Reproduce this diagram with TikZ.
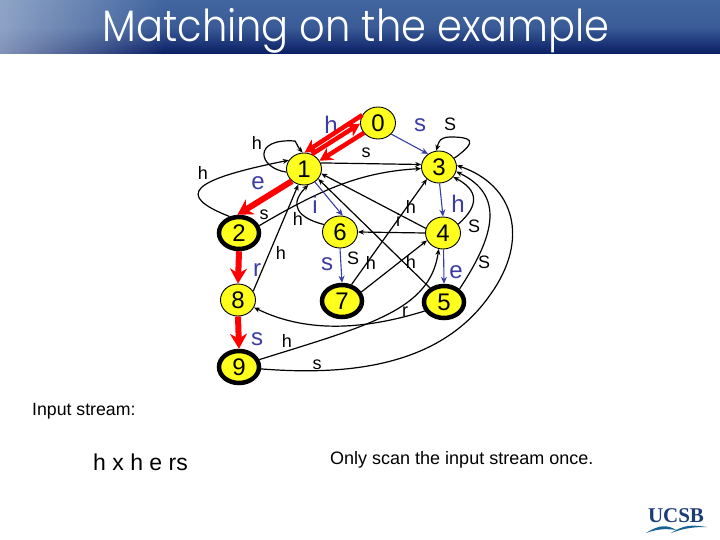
\documentclass[tikz,border=0pt]{standalone}
\usepackage{fontspec}
\setmainfont{Liberation Sans}
\newfontfamily\titlefont{Poppins Light}
\newfontfamily\logofont{Liberation Serif}
\usetikzlibrary{fadings,arrows.meta,shapes.geometric}
\definecolor{stateyellow}{RGB}{255,255,30}
\definecolor{gotoblue}{RGB}{60,60,165}
\definecolor{barlight}{RGB}{66,102,160}
\definecolor{bardark}{RGB}{10,30,100}
\definecolor{logoblue}{RGB}{28,60,120}
\tikzset{
  statenode/.style={ellipse, draw, fill=stateyellow, line width=0.9pt, minimum width=35pt, minimum height=32pt, inner sep=0pt, font=\fontsize{24}{24}\selectfont},
  finalnode/.style={statenode, line width=4.5pt, minimum width=40pt, minimum height=32pt},
  fail/.style={-{Stealth[length=6pt,width=5pt]}, line width=1.2pt},
  goto/.style={-{Stealth[length=7pt,width=6pt]}, gotoblue, line width=1.1pt},
  hit/.style={-{Stealth[length=15pt,width=17pt]}, red, line width=6pt},
  hitthin/.style={-{Stealth[length=13pt,width=14pt]}, red, line width=4.5pt},
  faillabel/.style={inner sep=0pt, font=\fontsize{18}{18}\selectfont},
  gotolabel/.style={inner sep=0pt, text=gotoblue, font=\fontsize{24}{24}\selectfont},
}
\begin{document}
\begin{tikzpicture}[x=1pt,y=-1pt]
\useasboundingbox (0,0) rectangle (720,540);
\shade[top color=barlight, bottom color=bardark, middle color=barlight!85!bardark] (0,0) rectangle (720,54);
\fill[white!55!barlight, opacity=0.75, path fading=east] (0,0) rectangle (165,54);
\node[inner sep=0pt, text=white, yscale=1.1, transform shape, font=\titlefont\fontsize{40}{40}\selectfont] (title) at (356,31) {Matching on the example};

% states
\node[statenode] (n0) at (378,123) {0};
\node[statenode] (n1) at (304,169) {1};
\node[finalnode] (n2) at (239,233) {2};
\node[statenode] (n3) at (439,167) {3};
\node[statenode] (n4) at (443,233) {4};
\node[finalnode] (n5) at (444,302) {5};
\node[statenode] (n6) at (340,232) {6};
\node[finalnode] (n7) at (342,301) {7};
\node[statenode] (n8) at (238,300) {8};
\node[finalnode] (n9) at (239,367) {9};

% failure links
\draw[fail] (n1.190) .. controls (258,168) and (252,138) .. (295,141) .. controls (297,143) and (297,146) .. (n1.95);
\draw[fail] (n2.120) .. controls (175,195) and (190,180) .. (n1.150);
\draw[fail] (n1.20) -- (n3.172);
\draw[fail] (n2.20) .. controls (320,190) and (360,172) .. (n3.185);
\draw[fail] (n3.30) .. controls (480,140) and (470,137) .. (450,137) .. controls (438,137) and (438,145) .. (n3.100);
\draw[fail] (n8.30) -- (n1.250);
\draw[fail] (n6.155) .. controls (298,218) and (288,205) .. (n1.285);
\draw[fail] (n4.165) -- (n1.-15);
\draw[fail] (n5.135) -- (n1.-35);
\draw[fail] (n4.west) -- (n6.east);
\draw[fail] (n7.60) -- (n3.225);
\draw[fail] (n7.25) -- (n4.205);
\draw[fail] (n4.30) .. controls (480,205) and (478,190) .. (n3.-35);
\draw[fail] (n5.40) .. controls (495,235) and (505,195) .. (n3.-15);
\draw[fail] (n9.-5) .. controls (340,375) and (438,370) .. (490,295) .. controls (530,240) and (515,185) .. (n3.5);
\draw[fail] (n9.20) .. controls (370,325) and (430,310) .. (n4.255);
\draw[fail] (n5.205) .. controls (370,328) and (310,335) .. (n8.-25);

% goto links
\draw[goto] (n0.-40) -- (n3.130);
\draw[goto] (n3.-88) -- (n4.90);
\draw[goto] (n4.-88) -- (n5.90);
\draw[goto] (n1.-50) -- (n6.80);
\draw[goto] (n6.-90) -- (n7.90);

% labels on goto links
\node[gotolabel] (lh0) at (331,125) {h};
\node[gotolabel] (le1) at (258,183) {e};
\node[gotolabel] (li1) at (315,205) {i};
\node[gotolabel] (ls0) at (420,125) {s};
\node[gotolabel] (lh3) at (458,204) {h};
\node[gotolabel] (le4) at (456,272) {e};
\node[gotolabel] (ls6) at (327,264) {s};
\node[gotolabel] (lr2) at (257,270) {r};
\node[gotolabel] (ls8) at (257,339) {s};

% matched path
\draw[hitthin] (n0.153) -- (n1.88);
\draw[hitthin] (n1.62) -- (n0.182);
\draw[hitthin] (n0.215) -- (n1.28);
\draw[hit] (n1.225) -- (n2.95);
\draw[hit] (n2.-90) -- (n8.90);
\draw[hit] (n8.-90) -- (n9.90);

% labels on failure links
\node[faillabel] (fh1) at (257,143) {h};
\node[faillabel] (fh2) at (203,173) {h};
\node[faillabel] (fs2) at (264,215) {s};
\node[faillabel] (fh6) at (298,219) {h};
\node[faillabel] (fh8) at (281,253) {h};
\node[faillabel] (fs1) at (366,153) {s};
\node[faillabel] (fs3) at (450,124) {S};
\node[faillabel] (fh4) at (411,207) {h};
\node[faillabel] (fi4) at (398,220) {i};
\node[faillabel] (fs4) at (474,226) {S};
\node[faillabel] (fs7) at (353,258) {S};
\node[faillabel] (fh7) at (371,263) {h};
\node[faillabel] (fh5) at (411,262) {h};
\node[faillabel] (fs5) at (484,262) {S};
\node[faillabel] (fr5) at (405,312) {r};
\node[faillabel] (fh9) at (287,341) {h};
\node[faillabel] (fs9) at (317,365) {s};

% texts
\node[anchor=west, inner sep=0pt, font=\fontsize{17.7}{18}\selectfont] (instream) at (32,411) {Input stream:};
\node[anchor=west, inner sep=0pt, font=\fontsize{23}{23}\selectfont] (inchars) at (93,462) {h x h e rs};
\node[anchor=west, inner sep=0pt, font=\fontsize{18}{18}\selectfont] (once) at (330,460) {Only scan the input stream once.};

% logo
\node[inner sep=0pt, text=logoblue, font=\logofont\bfseries\fontsize{21}{21}\selectfont] (ucsb) at (676,516) {UCSB};
\fill[logoblue!80!cyan] (646,533) .. controls (660,524) and (668,525) .. (676,530) .. controls (668,529) and (660,528) .. (646,533);
\fill[logoblue!80!cyan] (671,533) .. controls (685,524) and (693,525) .. (707,527) .. controls (693,527) and (685,528) .. (671,533);
\end{tikzpicture}
\end{document}
